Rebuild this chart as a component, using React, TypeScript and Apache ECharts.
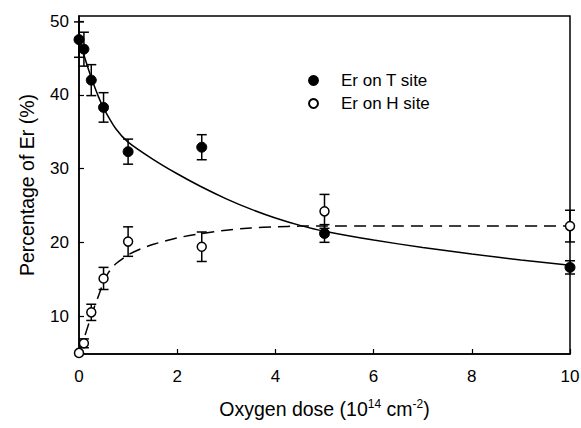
import React, { useEffect, useRef } from "react";
import * as echarts from "echarts";

// Measured points
const doses = [0, 0.1, 0.25, 0.5, 1, 2.5, 5, 10];
const tSite = [47.5, 46.2, 42.0, 38.3, 32.3, 32.9, 21.2, 16.6];
const tSiteErr = [2.4, 2.3, 2.1, 2.0, 1.7, 1.7, 1.2, 0.9];
const hSite = [5.0, 6.3, 10.5, 15.1, 20.1, 19.4, 24.2, 22.2];
const hSiteErr = [0, 0.6, 1.1, 1.5, 2.0, 2.0, 2.3, 2.15];

// Fitted curves
const tFitX = [0, 0.05, 0.1, 0.2, 0.3, 0.4, 0.5, 0.75, 1, 1.5, 2, 2.5, 3, 3.5, 4, 4.5, 5, 6, 7, 8, 9, 10];
const tFitY = [47.8, 46.6, 45.4, 43.3, 41.4, 39.7, 38.2, 35.4, 33.6, 31.3, 29.3, 27.5, 25.9, 24.5, 23.3, 22.3, 21.5, 20.3, 19.3, 18.4, 17.6, 16.9];
const hFitX = [0, 0.05, 0.1, 0.2, 0.3, 0.4, 0.5, 0.6, 0.75, 1, 1.25, 1.5, 2, 2.5, 3, 3.5, 4, 4.5, 5, 6, 8, 10];
const hFitY = [5.0, 5.9, 6.9, 9.0, 11.0, 12.8, 14.6, 15.9, 17.1, 18.3, 19.1, 19.7, 20.6, 21.2, 21.65, 21.95, 22.1, 22.2, 22.2, 22.2, 22.2, 22.2];

const xTicks = [0, 2, 4, 6, 8, 10];
const yTicks = [10, 20, 30, 40, 50];

const FONT = "Liberation Sans";

function errorSeries(name: string, ys: number[], errs: number[]) {
  const data = doses
    .map((x, i) => [x, ys[i] - errs[i], ys[i] + errs[i], errs[i]])
    .filter((d) => d[3] > 0);
  return {
    type: "custom",
    name: name + "-err",
    z: 3,
    silent: true,
    data,
    renderItem: (params: any, api: any) => {
      const x = api.value(0);
      const lo = api.coord([x, api.value(1)]);
      const hi = api.coord([x, api.value(2)]);
      const hw = 5;
      const style = { stroke: "#000", lineWidth: 1.5 };
      return {
        type: "group",
        children: [
          { type: "line", shape: { x1: lo[0], y1: lo[1], x2: hi[0], y2: hi[1] }, style },
          { type: "line", shape: { x1: lo[0] - hw, y1: lo[1], x2: lo[0] + hw, y2: lo[1] }, style },
          { type: "line", shape: { x1: hi[0] - hw, y1: hi[1], x2: hi[0] + hw, y2: hi[1] }, style },
        ],
      };
    },
  };
}

export default function App() {
  const ref = useRef<HTMLDivElement>(null);
  useEffect(() => {
    if (!ref.current) return;
    const chart = echarts.init(ref.current, null, { renderer: "svg" });
    chart.setOption({
      animation: false,
      backgroundColor: "#fff",
      textStyle: { fontFamily: FONT },
      grid: {
        left: 79,
        right: 11,
        top: 16,
        bottom: 74,
        show: true,
        borderColor: "#000",
        borderWidth: 1.5,
        outerBoundsMode: "none",
      },
      legend: {
        orient: "vertical",
        left: 303,
        top: 67,
        itemWidth: 9,
        itemHeight: 9,
        itemGap: 6,
        icon: "circle",
        textStyle: { fontFamily: FONT, fontSize: 17, color: "#000", padding: [0, 0, 0, 18] },
        data: ["Er on T site", "Er on H site"],
      },
      xAxis: {
        type: "value",
        min: 0,
        max: 10,
        interval: 2,
        name: "Oxygen dose (10{sup|14} cm{sup|-2})",
        nameLocation: "middle",
        nameGap: 44,
        nameTextStyle: {
          fontFamily: FONT,
          fontSize: 19.5,
          color: "#000",
          rich: {
            sup: { fontFamily: FONT, fontSize: 12, color: "#000", padding: [0, 0, 10, 0] },
          },
        },
        splitLine: { show: false },
        axisLine: { lineStyle: { color: "#000", width: 1.5 } },
        axisTick: { inside: true, length: 5, lineStyle: { color: "#000", width: 1.2 } },
        axisLabel: {
          fontFamily: FONT,
          fontSize: 17,
          color: "#000",
          margin: 14,
          customValues: xTicks,
        },
      },
      yAxis: {
        type: "value",
        min: 4.85,
        max: 50.7,
        name: "Percentage of Er (%)",
        nameLocation: "middle",
        nameGap: 42,
        nameTextStyle: { fontFamily: FONT, fontSize: 19.5, color: "#000" },
        splitLine: { show: false },
        axisLine: { lineStyle: { color: "#000", width: 1.5 } },
        axisTick: { inside: true, length: 5, customValues: yTicks, lineStyle: { color: "#000", width: 1.2 } },
        axisLabel: {
          fontFamily: FONT,
          fontSize: 17,
          color: "#000",
          margin: 10,
          customValues: yTicks,
        },
      },
      series: [
        {
          type: "line",
          name: "fitT",
          data: tFitX.map((x, i) => [x, tFitY[i]]),
          showSymbol: false,
          smooth: 0.2,
          silent: true,
          z: 2,
          lineStyle: { color: "#000", width: 1.5 },
        },
        {
          type: "line",
          name: "fitH",
          data: hFitX.map((x, i) => [x, hFitY[i]]),
          showSymbol: false,
          smooth: 0.2,
          silent: true,
          z: 2,
          lineStyle: { color: "#000", width: 1.5, type: [12, 7] },
        },
        errorSeries("T", tSite, tSiteErr),
        errorSeries("H", hSite, hSiteErr),
        {
          type: "scatter",
          name: "Er on T site",
          data: doses.map((x, i) => [x, tSite[i]]),
          symbol: "circle",
          symbolSize: 10,
          z: 5,
          itemStyle: { color: "#000", borderColor: "#000", borderWidth: 1, opacity: 1 },
        },
        {
          type: "scatter",
          name: "Er on H site",
          data: doses.map((x, i) => [x, hSite[i]]),
          symbol: "circle",
          symbolSize: 9,
          z: 5,
          itemStyle: { color: "#fff", borderColor: "#000", borderWidth: 1.5, opacity: 1 },
        },
      ],
    });
    return () => chart.dispose();
  }, []);
  return (
    <div
      ref={ref}
      style={{ position: "fixed", left: 0, top: 0, width: 581, height: 428, background: "#fff" }}
    />
  );
}
